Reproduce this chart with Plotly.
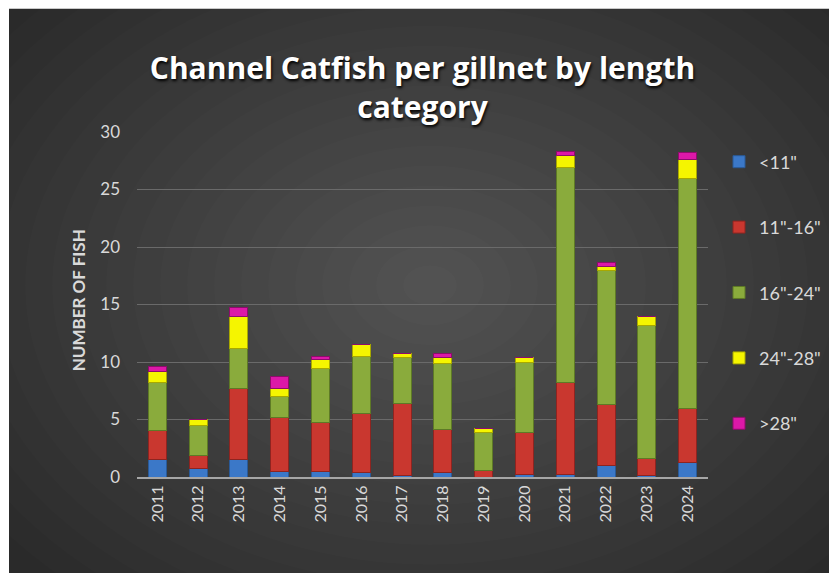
import plotly.graph_objects as go

years = ["2011", "2012", "2013", "2014", "2015", "2016", "2017",
         "2018", "2019", "2020", "2021", "2022", "2023", "2024"]
lt11 = [1.5, 0.7, 1.5, 0.45, 0.45, 0.4, 0.15, 0.35, 0.0, 0.2, 0.2, 1.0, 0.15, 1.3]
s11_16 = [2.55, 1.2, 6.2, 4.75, 4.25, 5.1, 6.2, 3.75, 0.6, 3.7, 8.05, 5.3, 1.5, 4.65]
s16_24 = [4.15, 2.55, 3.5, 1.8, 4.75, 5.0, 4.0, 5.8, 3.25, 6.1, 18.7, 11.7, 11.55, 20.0]
s24_28 = [1.0, 0.55, 2.75, 0.7, 0.75, 1.0, 0.35, 0.45, 0.4, 0.4, 1.0, 0.3, 0.8, 1.65]
gt28 = [0.45, 0.0, 0.8, 1.0, 0.25, 0.0, 0.0, 0.4, 0.0, 0.0, 0.35, 0.35, 0.0, 0.65]

series = [
    ('<11"', lt11, "#3b78c8", "#2a5a98"),
    ('11"-16"', s11_16, "#c9372f", "#8e2420"),
    ('16"-24"', s16_24, "#8aab3c", "#5e7a26"),
    ('24"-28"', s24_28, "#f5f500", "#a8a800"),
    ('>28"', gt28, "#dc18a8", "#8e0c6c"),
]

W, H = 829, 573
L, R, T, B = 137, 708, 131.5, 477

def px(x):
    return (x - L) / (R - L)

def py(y):
    return (B - y) / (B - T)

fig = go.Figure()
for i, (name, vals, col, lcol) in enumerate(series):
    fig.add_trace(go.Bar(
        x=years, y=vals, name=name, legendgroup=str(i),
        marker=dict(color=col, line=dict(color=lcol, width=1)),
    ))

shapes = [dict(type="rect", xref="paper", yref="paper",
               x0=px(9), x1=px(W + 2), y0=py(H + 2), y1=py(8),
               fillcolor="#2a2a2a", line=dict(width=0), layer="below")]
cx, cy = 430, 285
N = 20
for k in range(N):
    f = 1 - k / N
    rx, ry = 540 * f, 400 * f
    shapes.append(dict(type="circle", xref="paper", yref="paper",
                       x0=px(cx - rx), x1=px(cx + rx), y0=py(cy + ry), y1=py(cy - ry),
                       fillcolor="#ffffff", opacity=0.0105, line=dict(width=0), layer="below"))

fig.update_layout(
    width=W, height=H,
    margin=dict(l=L, r=W - R, t=T, b=H - B, autoexpand=False),
    paper_bgcolor="white",
    plot_bgcolor="rgba(0,0,0,0)",
    barmode="stack",
    bargap=0.56,
    shapes=shapes,
    font=dict(family="Lato, Open Sans, sans-serif", color="#d9d9d9", size=16),
    title=dict(text="Channel Catfish per gillnet by length<br>category",
               x=0.5, xref="paper", xanchor="center", y=1 - 79 / H, yref="container", yanchor="middle",
               font=dict(family="Open Sans, sans-serif", size=30, color="#ffffff", weight="bold",
                         shadow="1px 2px 3px #000000")),
    xaxis=dict(tickangle=-90, tickfont=dict(size=16, color="#d9d9d9"),
               showline=True, linecolor="#a6a6a6", linewidth=2, ticks="", showgrid=False),
    yaxis=dict(range=[0, 30], dtick=5, gridcolor="#6a6a6a", gridwidth=1,
               tickfont=dict(size=17, color="#d9d9d9"), zeroline=False, ticks="",
               ticklabelstandoff=16),
    annotations=[dict(text="<b>NUMBER OF FISH</b>", xref="paper", yref="paper",
                      x=px(78), y=py(300), xanchor="center", yanchor="middle",
                      textangle=-90, showarrow=False,
                      font=dict(size=17, color="#d9d9d9"))],
    legend=dict(x=px(719), xanchor="left", y=py(143), yanchor="top",
                traceorder="grouped", tracegroupgap=39,
                font=dict(size=18, color="#d9d9d9"), bgcolor="rgba(0,0,0,0)",
                itemwidth=30),
)

fig.write_html("out.html")
